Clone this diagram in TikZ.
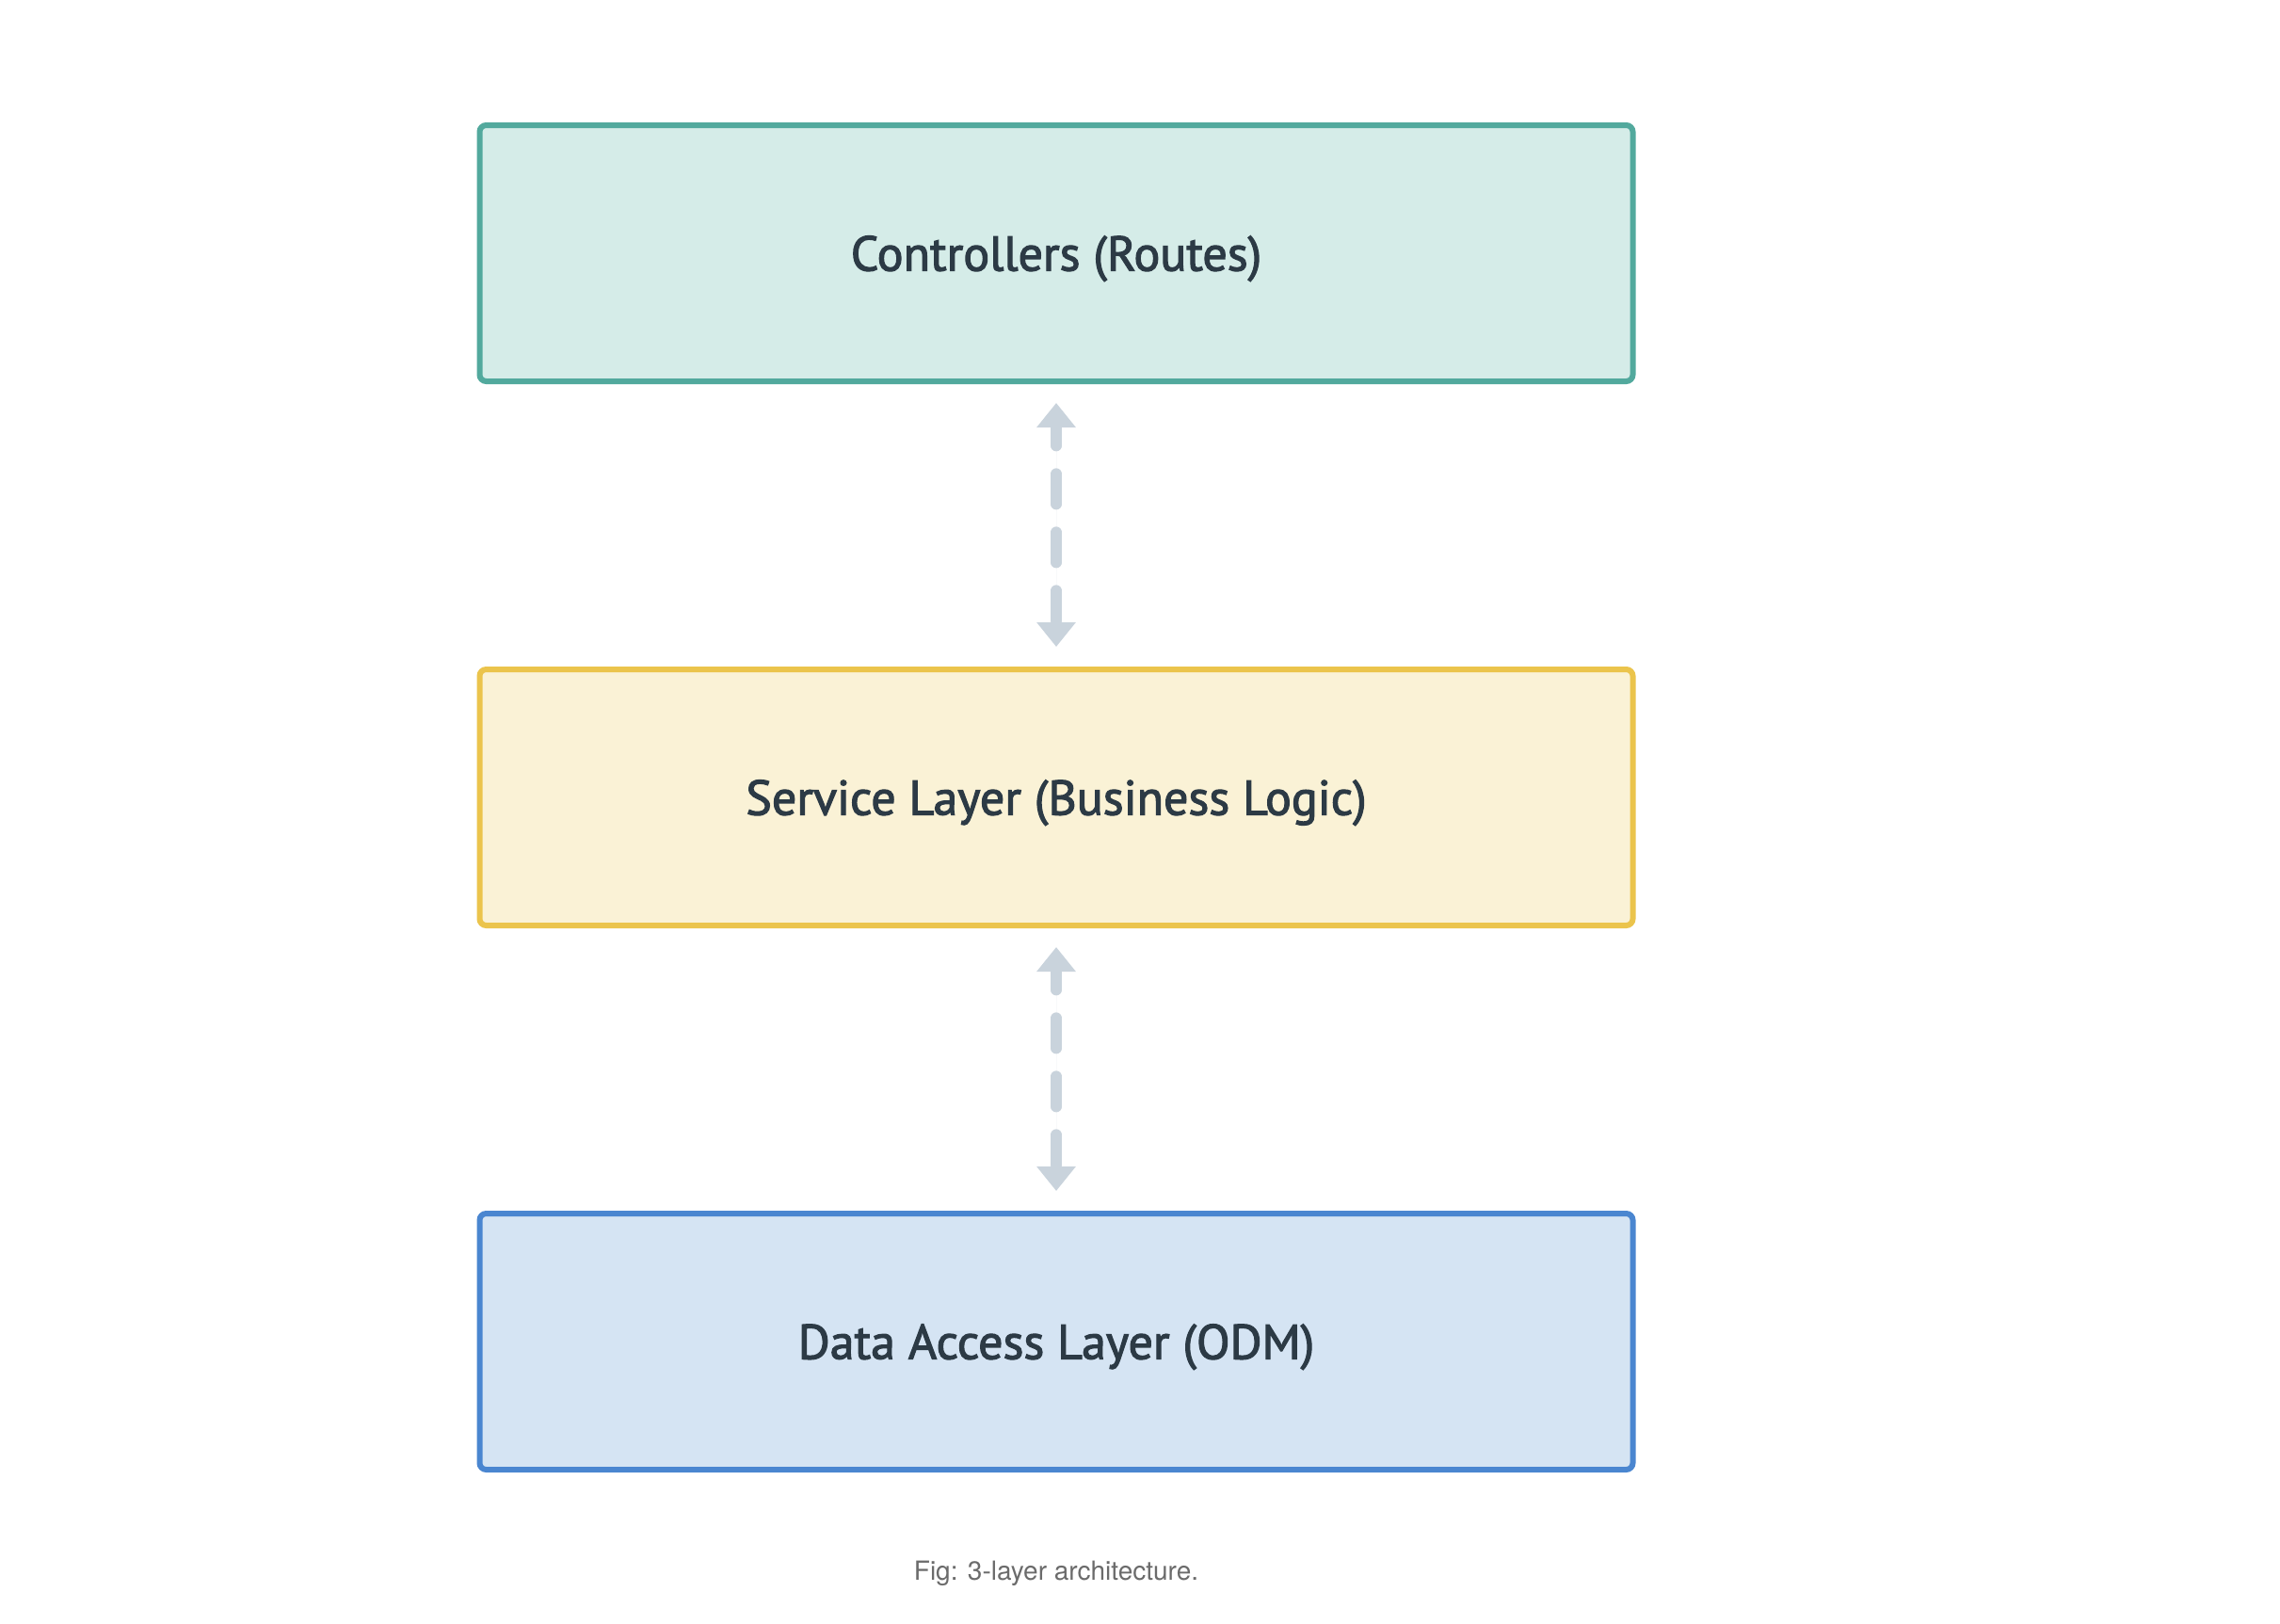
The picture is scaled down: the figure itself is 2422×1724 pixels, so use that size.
\documentclass[tikz,border=0pt]{standalone}
\usepackage{fontspec}
\setmainfont{Liberation Sans}
\newfontfamily\boxfont[FakeBold=2.2]{PT Sans}
\newfontfamily\capfont{TeX Gyre Heros}
\usetikzlibrary{arrows.meta}
\definecolor{txt}{HTML}{2C3A45}
\definecolor{tealB}{HTML}{52A99D}
\definecolor{tealF}{HTML}{D5ECE8}
\definecolor{yelB}{HTML}{EBC44C}
\definecolor{yelF}{HTML}{FAF2D6}
\definecolor{bluB}{HTML}{4A86D0}
\definecolor{bluF}{HTML}{D5E4F3}
\definecolor{arr}{HTML}{C9D3DC}
\definecolor{capc}{HTML}{6B6B6B}
\tikzset{
  layer/.style={line width=6pt, rounded corners=7pt, minimum width=1225pt, minimum height=272pt, inner sep=0pt,
    text height=37pt, text depth=0pt, text=txt, font=\boxfont\fontsize{52}{60}\selectfont},
  biarrow/.style={draw=arr, fill=arr, line width=12pt, line cap=round, dash pattern=on 32pt off 30pt, dash phase=11pt,
    {Triangle[width=40pt,length=26pt]}-{Triangle[width=40pt,length=26pt]}, shorten <=20pt, shorten >=21pt}
}
\begin{document}
\begin{tikzpicture}[x=1pt,y=-1pt]
\useasboundingbox (0,0) rectangle (2422,1724);
\fill[white] (0,0) rectangle (2422,1724);
\node[layer, draw=tealB, fill=tealF] (ctrl) at (1122,269) {Controllers (Routes)};
\node[layer, draw=yelB, fill=yelF] (svc) at (1122,847) {Service Layer (Business Logic)};
\node[layer, draw=bluB, fill=bluF] (dal) at (1122,1425) {Data Access Layer (ODM)};
\draw[biarrow] (ctrl.south) -- (svc.north);
\draw[biarrow] (svc.south) -- (dal.north);
\node[text=capc, font=\capfont\fontsize{28}{32}\selectfont] (cap) at (1122,1671) {Fig: 3-layer architecture.};
\end{tikzpicture}
\end{document}
